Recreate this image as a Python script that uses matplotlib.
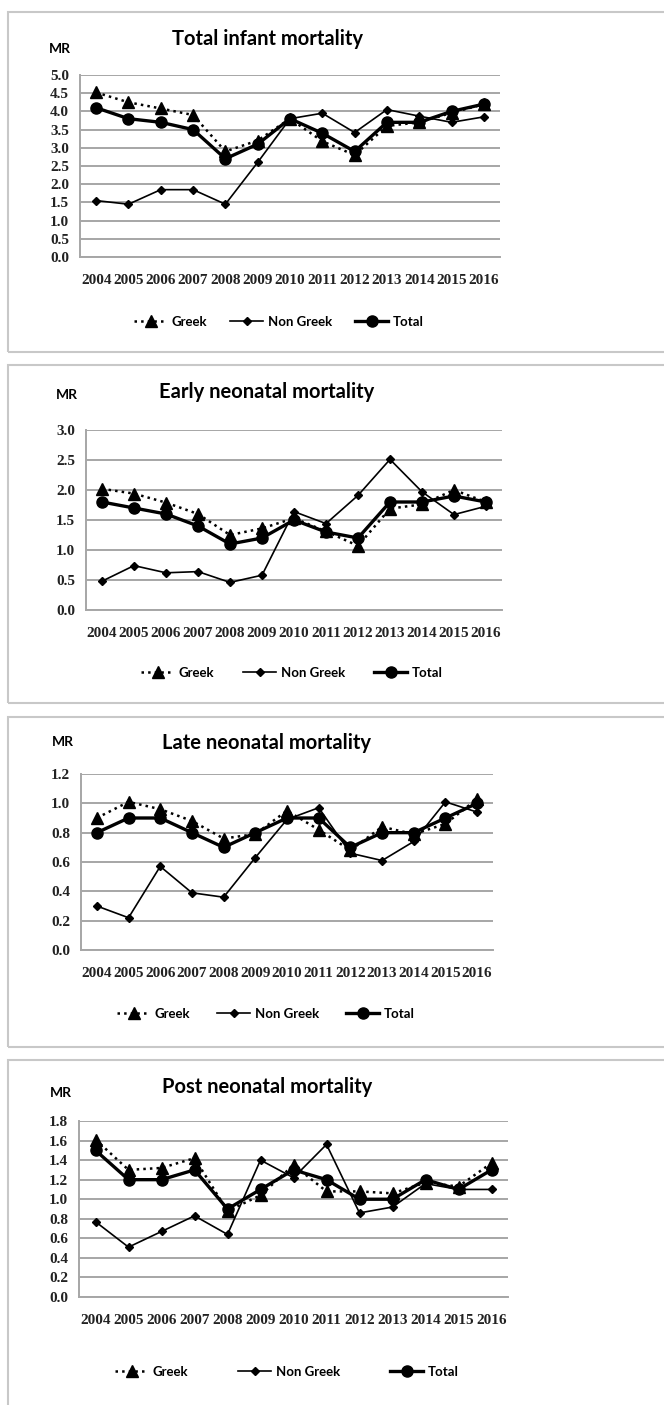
import matplotlib
matplotlib.use("Agg")
from matplotlib import pyplot as plt
from matplotlib.patches import Rectangle

# data
years = ['2004', '2005', '2006', '2007', '2008', '2009', '2010',
         '2011', '2012', '2013', '2014', '2015', '2016']
series_names = ['Greek', 'Non Greek', 'Total']

titles = ['Total infant mortality', 'Early neonatal mortality',
          'Late neonatal mortality', 'Post neonatal mortality']
y_max = [5.0, 3.0, 1.2, 1.8]
y_step = [0.5, 0.5, 0.2, 0.2]

infant_greek = [4.52, 4.25, 4.08, 3.90, 2.90, 3.20, 3.80, 3.18, 2.80, 3.60, 3.70, 3.96, 4.20]
infant_nongreek = [1.55, 1.45, 1.85, 1.85, 1.45, 2.60, 3.80, 3.95, 3.42, 4.05, 3.87, 3.70, 3.85]
infant_total = [4.10, 3.80, 3.70, 3.50, 2.70, 3.10, 3.80, 3.40, 2.90, 3.70, 3.70, 4.00, 4.20]

early_greek = [2.02, 1.94, 1.79, 1.60, 1.25, 1.36, 1.53, 1.31, 1.07, 1.69, 1.76, 2.00, 1.80]
early_nongreek = [0.48, 0.74, 0.62, 0.64, 0.46, 0.58, 1.64, 1.44, 1.91, 2.51, 1.97, 1.59, 1.73]
early_total = [1.80, 1.70, 1.60, 1.40, 1.10, 1.20, 1.50, 1.30, 1.20, 1.80, 1.80, 1.90, 1.80]

late_greek = [0.90, 1.01, 0.96, 0.88, 0.76, 0.79, 0.95, 0.82, 0.68, 0.84, 0.79, 0.86, 1.03]
late_nongreek = [0.30, 0.22, 0.57, 0.39, 0.36, 0.63, 0.89, 0.97, 0.66, 0.61, 0.74, 1.01, 0.94]
late_total = [0.80, 0.90, 0.90, 0.80, 0.70, 0.80, 0.90, 0.90, 0.70, 0.80, 0.80, 0.90, 1.00]

post_greek = [1.61, 1.30, 1.32, 1.42, 0.88, 1.04, 1.35, 1.08, 1.08, 1.06, 1.17, 1.13, 1.37]
post_nongreek = [0.77, 0.51, 0.67, 0.83, 0.64, 1.40, 1.22, 1.56, 0.86, 0.92, 1.16, 1.10, 1.10]
post_total = [1.50, 1.20, 1.20, 1.30, 0.90, 1.10, 1.30, 1.20, 1.00, 1.00, 1.20, 1.10, 1.30]

panels = [
    (infant_greek, infant_nongreek, infant_total),
    (early_greek, early_nongreek, early_total),
    (late_greek, late_nongreek, late_total),
    (post_greek, post_nongreek, post_total),
]

# layout in pixels (left, top, right, bottom)
W, H = 664, 1405
ax_px = [(80, 75, 500, 257), (86, 430, 502, 610), (81, 774, 493, 950), (79, 1121, 508, 1297)]
frame_px = [(8, 12, 700, 352), (8, 365, 700, 703), (8, 717, 700, 1047), (8, 1060, 700, 1420)]
title_y = [39, 392, 743, 1087]
mr_xy = [(60, 49), (67, 395), (63, 742), (61, 1093)]
legend_xy = [(279, 322), (292, 673), (266, 1014), (287, 1372)]
legend_gap = [1.75, 2.2, 2.05, 3.8]


def rect(l, t, r, b):
    return [l / W, 1 - b / H, (r - l) / W, (b - t) / H]


styles = [
    dict(linestyle=':', linewidth=1.8, marker='^', markersize=8.5),
    dict(linestyle='-', linewidth=1.2, marker='D', markersize=4.5),
    dict(linestyle='-', linewidth=2.4, marker='o', markersize=8),
]

fig = plt.figure(figsize=(W / 100, H / 100), dpi=100)
fig.patch.set_facecolor('white')

for i, data in enumerate(panels):
    l, t, r, b = frame_px[i]
    fig.patches.append(Rectangle((l / W, 1 - b / H), (r - l) / W, (b - t) / H,
                                 transform=fig.transFigure, facecolor='none',
                                 edgecolor='#c8c8c8', linewidth=1.5))

    ax = fig.add_axes(rect(*ax_px[i]))
    x = range(len(years))
    handles = []
    for vals, st, name in zip(data, styles, series_names):
        h, = ax.plot(x, vals, color='black', label=name, clip_on=False, **st)
        handles.append(h)

    ax.set_xlim(-0.5, len(years) - 0.5)
    ax.set_ylim(0, y_max[i])
    n = int(round(y_max[i] / y_step[i]))
    ticks = [k * y_step[i] for k in range(n + 1)]
    ax.set_yticks(ticks)
    ax.set_yticklabels(['%.1f' % v for v in ticks])
    ax.set_xticks(list(x))
    ax.set_xticklabels(years)
    ax.grid(axis='y', color='#a6a6a6', linewidth=1.4)
    ax.set_axisbelow(True)
    for side in ['top', 'right']:
        ax.spines[side].set_visible(False)
    for side in ['left', 'bottom']:
        ax.spines[side].set_color('#a6a6a6')
        ax.spines[side].set_linewidth(1.4)
    ax.tick_params(axis='both', length=0)
    ax.tick_params(axis='x', pad=12)
    ax.tick_params(axis='y', pad=8)
    for lab in ax.get_xticklabels() + ax.get_yticklabels():
        lab.set_fontfamily('Liberation Serif')
        lab.set_fontweight('bold')
        lab.set_fontsize(11)
        lab.set_color('#222222')

    fig.text(267 / W, 1 - title_y[i] / H, titles[i], ha='center', va='center',
             fontsize=14.5, fontweight='bold', family='Lato')
    mx, my = mr_xy[i]
    fig.text(mx / W, 1 - my / H, 'MR', ha='center', va='center',
             fontsize=10, fontweight='bold', family='Lato')

    lx, ly = legend_xy[i]
    fig.legend(handles=handles, loc='center', ncol=3, frameon=False,
               bbox_to_anchor=(lx / W, 1 - ly / H),
               prop=dict(family='Lato', weight='bold', size=9.5),
               handlelength=2.5, columnspacing=legend_gap[i], handletextpad=0.35)

fig.savefig('out.png', dpi=100)
